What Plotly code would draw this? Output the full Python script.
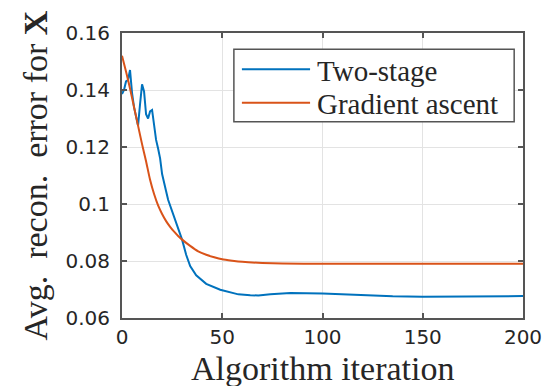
import plotly.graph_objects as go

# ---- data ----
two_stage_x = [0, 1, 2, 3, 4, 5, 6, 7, 8, 9, 10, 11, 12, 13, 14, 15, 16, 17, 18, 19, 20,
               21, 22, 23, 24, 26, 28, 30, 32, 34, 37, 42, 49, 54, 58, 64, 68, 74, 84,
               100, 110, 120, 130, 135, 150, 170, 200]
two_stage_y = [0.1386, 0.1400, 0.1430, 0.1435, 0.1470, 0.1390, 0.1340, 0.1305, 0.1275,
               0.1350, 0.1420, 0.1395, 0.1315, 0.1300, 0.1325, 0.1330, 0.1275, 0.1225,
               0.1195, 0.1160, 0.1105, 0.1070, 0.1045, 0.1015, 0.0995, 0.0955, 0.0910,
               0.0874, 0.0822, 0.0782, 0.0750, 0.0720, 0.0699, 0.0690, 0.0683, 0.0680,
               0.0679, 0.0683, 0.0688, 0.0686, 0.0683, 0.0681, 0.0679, 0.0676, 0.0675,
               0.0675, 0.0677]

grad_x = [0, 2, 4, 6, 8, 10, 12, 14, 16, 18, 20, 22, 24, 26, 28, 30, 34, 38, 42, 46, 50,
          55, 60, 70, 80, 100, 150, 200]
grad_y = [0.152, 0.1465, 0.1405, 0.134, 0.1275, 0.121, 0.115, 0.1085, 0.1035, 0.0995,
          0.0965, 0.0940, 0.0920, 0.0903, 0.0888, 0.0875, 0.0853, 0.0834, 0.0822, 0.0813,
          0.0806, 0.0801, 0.0797, 0.0793, 0.0791, 0.079, 0.079, 0.079]

series_names = ["Two-stage", "Gradient ascent"]
x_ticks = [0, 50, 100, 150, 200]
y_ticks = [0.06, 0.08, 0.1, 0.12, 0.14, 0.16]
y_tick_labels = ["0.06", "0.08", "0.1", "0.12", "0.14", "0.16"]

BLUE = "#0072BD"
ORANGE = "#D95319"
AXC = "#555555"
TXT = "#262626"
SERIF = "Liberation Serif"
SANS = "DejaVu Sans"

fig = go.Figure()
fig.add_trace(go.Scatter(x=two_stage_x, y=two_stage_y, mode="lines", name=series_names[0],
                         line=dict(color=BLUE, width=2), showlegend=False))
fig.add_trace(go.Scatter(x=grad_x, y=grad_y, mode="lines", name=series_names[1],
                         line=dict(color=ORANGE, width=2, shape="spline", smoothing=0.6),
                         showlegend=False))

# manual legend (MATLAB style, long line samples)
fig.add_shape(type="rect", xref="paper", yref="paper", x0=0.279, x1=0.978, y0=0.689, y1=0.943,
              line=dict(color=AXC, width=1.5), fillcolor="white", layer="above")
for i, (name, col) in enumerate(zip(series_names, [BLUE, ORANGE])):
    yy = 0.873 - i * 0.118
    fig.add_shape(type="line", xref="paper", yref="paper", x0=0.299, x1=0.469, y0=yy, y1=yy,
                  line=dict(color=col, width=2), layer="above")
    fig.add_annotation(xref="paper", yref="paper", x=0.481, y=yy - 0.005, text=name,
                       showarrow=False, xanchor="left", yanchor="middle",
                       font=dict(family=SERIF, size=29, color=TXT))

# x-axis title placed as an annotation for tight MATLAB-like spacing
fig.add_annotation(xref="paper", yref="paper", x=0.5, y=-0.104, text="Algorithm iteration",
                   showarrow=False, xanchor="center", yanchor="top",
                   font=dict(family=SERIF, size=34, color=TXT))

fig.update_xaxes(range=[0, 200], tickvals=x_ticks, ticks="inside", ticklen=5, tickwidth=1.5,
                 tickcolor=AXC, showline=True, linecolor=AXC, linewidth=2, mirror="ticks",
                 showgrid=True, gridcolor="#e3e3e3", gridwidth=1, zeroline=False,
                 tickfont=dict(family=SANS, size=20, color=TXT),
                 ticklabelstandoff=0)
fig.update_yaxes(range=[0.06, 0.16], tickvals=y_ticks, ticktext=y_tick_labels, ticks="inside",
                 ticklen=5, tickwidth=1.5, tickcolor=AXC, showline=True, linecolor=AXC,
                 linewidth=2, mirror="ticks", showgrid=True, gridcolor="#e3e3e3", gridwidth=1,
                 zeroline=False, tickfont=dict(family=SANS, size=20, color=TXT),
                 ticklabelstandoff=6,
                 title=dict(text="Avg.\u00a0 recon.\u00a0 error for <b>X</b>",
                            font=dict(family=SERIF, size=34, color=TXT), standoff=8))

# page body has an 8px margin, so the figure is 8px smaller and offsets are reduced by 8
fig.update_layout(width=548, height=378, margin=dict(l=114, r=33, t=25, b=68, autoexpand=False),
                  paper_bgcolor="white", plot_bgcolor="white", showlegend=False)

fig.write_html("out.html")
